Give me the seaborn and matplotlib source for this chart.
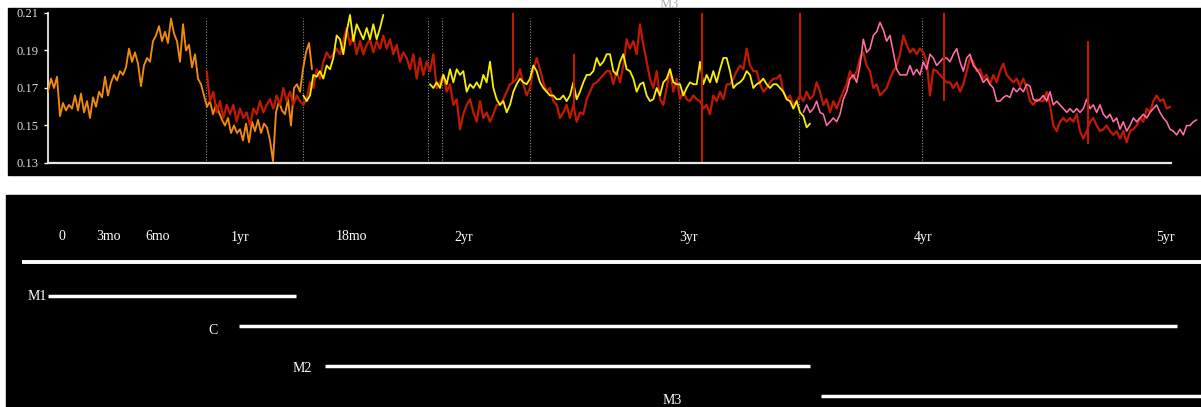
import numpy as np
import pandas as pd
import matplotlib
matplotlib.use("Agg")
import matplotlib.pyplot as plt
from matplotlib.patches import Rectangle
import seaborn as sns

# ---------------- data ----------------
# top panel: time axis in "days" (arbitrary units), values of the measured index
orange_start, orange_step = 0.0, 3.0
orange = [0.168, 0.175, 0.170, 0.176, 0.155, 0.162, 0.158, 0.161, 0.159, 0.166,
          0.158, 0.167, 0.157, 0.163, 0.154, 0.165, 0.160, 0.168, 0.165, 0.176,
          0.166, 0.173, 0.177, 0.174, 0.179, 0.177, 0.181, 0.191, 0.184, 0.189,
          0.183, 0.171, 0.182, 0.186, 0.184, 0.195, 0.198, 0.203, 0.195, 0.200,
          0.194, 0.207, 0.199, 0.195, 0.184, 0.204, 0.190, 0.193, 0.181, 0.188,
          0.175, 0.172, 0.166, 0.160, 0.163, 0.156, 0.161, 0.157, 0.153, 0.150,
          0.154, 0.146, 0.150, 0.146, 0.148, 0.142, 0.151, 0.141, 0.152, 0.147,
          0.153, 0.146, 0.151, 0.149, 0.142, 0.131, 0.157, 0.163, 0.158, 0.156,
          0.164, 0.150, 0.170, 0.172, 0.168, 0.180, 0.189, 0.194, 0.180]

STEP = 10.0 / 3.0
red_start = 158.67
red = [0.179, 0.163, 0.168, 0.157, 0.163, 0.154, 0.161,
       0.156, 0.161, 0.152, 0.159, 0.154, 0.157, 0.150, 0.159, 0.156, 0.163,
       0.157, 0.161, 0.164, 0.159, 0.166, 0.161, 0.170, 0.163, 0.168, 0.161,
       0.166, 0.163, 0.161, 0.164, 0.173, 0.170, 0.180, 0.175, 0.184, 0.189,
       0.186, 0.188, 0.191, 0.188, 0.195, 0.202, 0.193, 0.198, 0.188, 0.195,
       0.188, 0.193, 0.196, 0.189, 0.195, 0.191, 0.198, 0.191, 0.196, 0.188,
       0.193, 0.184, 0.189, 0.186, 0.180, 0.188, 0.175,
       0.186, 0.177, 0.184, 0.179, 0.188, 0.170, 0.173, 0.177, 0.168, 0.172,
       0.161, 0.164, 0.148, 0.156, 0.161, 0.164, 0.157, 0.152, 0.163, 0.154,
       0.157, 0.152, 0.156, 0.161, 0.161, 0.164, 0.168, 0.172, 0.173, 0.175,
       0.180, 0.172, 0.166, 0.170, 0.180, 0.186, 0.180, 0.173, 0.168, 0.170,
       0.163, 0.161, 0.154, 0.157, 0.161, 0.154, 0.161, 0.152, 0.157, 0.156,
       0.164, 0.168, 0.172, 0.173, 0.175, 0.177, 0.179,
       0.179, 0.172, 0.179, 0.173, 0.182, 0.196, 0.191, 0.195, 0.188, 0.204,
       0.193, 0.184, 0.175, 0.170, 0.179, 0.164, 0.161, 0.170, 0.180, 0.168,
       0.175, 0.164, 0.168, 0.164, 0.163, 0.166, 0.164, 0.163, 0.159, 0.161,
       0.156, 0.166, 0.163, 0.168, 0.164, 0.172, 0.172, 0.175, 0.179, 0.182,
       0.180, 0.191, 0.182, 0.179, 0.179, 0.172, 0.168, 0.170, 0.173, 0.175,
       0.175, 0.177, 0.168, 0.164, 0.166, 0.161, 0.163,
       0.166, 0.163, 0.168, 0.164, 0.166, 0.173, 0.168, 0.161, 0.164, 0.157,
       0.163, 0.159, 0.164, 0.168, 0.172, 0.179, 0.175, 0.179, 0.186, 0.189,
       0.182, 0.179, 0.170, 0.172, 0.166, 0.168, 0.170, 0.175, 0.179, 0.182,
       0.188, 0.198, 0.193, 0.189, 0.191, 0.188, 0.191, 0.189, 0.184, 0.166,
       0.180, 0.179, 0.177, 0.175, 0.173, 0.173, 0.170, 0.173, 0.168, 0.172,
       0.179, 0.186, 0.184, 0.179, 0.180, 0.175, 0.177, 0.172, 0.177,
       0.173, 0.179, 0.183, 0.177, 0.175, 0.173, 0.175, 0.171, 0.175, 0.170,
       0.163, 0.161, 0.164, 0.163, 0.163, 0.168, 0.161, 0.150, 0.147, 0.152,
       0.154, 0.152, 0.154, 0.152, 0.156, 0.147, 0.143, 0.147, 0.152, 0.154,
       0.150, 0.147, 0.148, 0.150, 0.147, 0.145, 0.147, 0.143, 0.147, 0.141,
       0.147, 0.148, 0.150, 0.154, 0.152, 0.159, 0.157, 0.163, 0.166, 0.163,
       0.164, 0.159, 0.160]

yellow_a_start = 255.33
yellow_a = [0.166, 0.163, 0.166, 0.177, 0.176, 0.179, 0.175, 0.182, 0.180, 0.186,
            0.198, 0.196, 0.188, 0.200, 0.209, 0.195, 0.204, 0.200, 0.196, 0.202,
            0.196, 0.204, 0.196, 0.202, 0.209]

yellow_b_start = 382.0
yellow_b = [0.172, 0.170, 0.173, 0.170, 0.177, 0.172, 0.180, 0.173, 0.180, 0.177,
            0.179, 0.168, 0.172, 0.170, 0.173, 0.170, 0.177, 0.173, 0.184, 0.170,
            0.164, 0.161, 0.163, 0.157, 0.161, 0.168, 0.172, 0.175, 0.173, 0.172,
            0.175, 0.182, 0.179, 0.173, 0.170, 0.168, 0.166, 0.166, 0.164, 0.164,
            0.166, 0.163, 0.166, 0.173, 0.164, 0.168, 0.173, 0.177, 0.177, 0.179,
            0.186, 0.182, 0.184, 0.188,
            0.188, 0.179, 0.177, 0.184, 0.188, 0.180, 0.179, 0.175, 0.168, 0.172,
            0.173, 0.166, 0.163, 0.164, 0.170, 0.166, 0.173, 0.175, 0.180, 0.173,
            0.172, 0.172, 0.166, 0.170, 0.173, 0.172, 0.172, 0.184, 0.172, 0.177,
            0.173, 0.179, 0.173, 0.180, 0.186, 0.186, 0.179, 0.170, 0.172, 0.173,
            0.175, 0.179, 0.177, 0.170, 0.172, 0.173, 0.175, 0.172, 0.170, 0.172,
            0.172, 0.170, 0.168, 0.164, 0.163, 0.159, 0.163,
            0.157, 0.155, 0.149, 0.151]

pink_start = 755.33
pink = [0.157, 0.161, 0.157, 0.159, 0.163, 0.157, 0.156, 0.150, 0.152, 0.154,
        0.152, 0.156, 0.164, 0.168, 0.175, 0.177, 0.173, 0.182, 0.196, 0.189,
        0.191, 0.198, 0.200, 0.205, 0.201, 0.195, 0.198, 0.189, 0.180, 0.177,
        0.177, 0.177, 0.182, 0.177, 0.180, 0.177, 0.184, 0.180, 0.188, 0.186,
        0.182, 0.184, 0.186, 0.186, 0.184, 0.188, 0.191, 0.184, 0.179, 0.186,
        0.188, 0.182, 0.180, 0.177, 0.173, 0.175, 0.172, 0.170, 0.163,
        0.163, 0.165, 0.166, 0.165, 0.170, 0.168, 0.170, 0.168, 0.172, 0.171,
        0.164, 0.163, 0.164, 0.166, 0.163, 0.168, 0.161, 0.163, 0.161, 0.159,
        0.157, 0.159, 0.157, 0.159, 0.157, 0.159, 0.164, 0.159, 0.161, 0.157,
        0.161, 0.156, 0.154, 0.156, 0.152, 0.154, 0.148, 0.152, 0.147, 0.150,
        0.154, 0.152, 0.154, 0.156, 0.154, 0.157, 0.159, 0.161, 0.157, 0.154,
        0.152, 0.148, 0.147, 0.145, 0.148, 0.145, 0.150, 0.150, 0.152, 0.153]

# artefact spikes in the red record
spike_t = [465, 526, 654, 752, 896, 1040]
spike_lo = [0.173, 0.161, 0.130, 0.165, 0.163, 0.140]
spike_hi = [0.210, 0.188, 0.210, 0.210, 0.210, 0.195]

# dotted event markers
event_t = [158, 255, 380, 394, 482, 631, 751, 874]

yticks = [0.13, 0.15, 0.17, 0.19, 0.21]
axis_end = 1124

# bottom panel: timeline
timeline_labels = ["0", "3mo", "6mo", "1yr", "18mo", "2yr", "3yr", "4yr", "5yr"]
timeline_pos = [62, 109, 158, 240, 351, 464, 689, 923, 1165]
phase_names = ["M1", "C", "M2", "M3"]
phase_start = [48, 239, 325, 821]
phase_end = [296, 1177, 810, 1201]

# ---------------- layout / style ----------------
W, H = 1201, 407
sns.set_style("dark")
plt.rcParams['font.family'] = ['Liberation Serif', 'DejaVu Serif']

colors = {"orange": "#F28A0A", "red": "#C01A00", "yellow": "#F8F000", "pink": "#FF6FA6"}
widths = {"orange": 1.35, "red": 1.6, "yellow": 1.3, "pink": 1.15}


def fx(px):
    return px / W


def fy(py):
    return 1 - py / H


fig = plt.figure(figsize=(W / 100, H / 100), dpi=100, facecolor='white')
fig.add_artist(Rectangle((fx(8), fy(175)), (W - 8) / W, (175 - 8) / H,
                         transform=fig.transFigure, color='black', zorder=0))
fig.add_artist(Rectangle((fx(6), 0), (W - 6) / W, (407 - 195) / H,
                         transform=fig.transFigure, color='black', zorder=0))

# ---- top panel ----
ax = fig.add_axes([fx(48), fy(163), (W - 48) / W, 150 / H])
ax.set_facecolor('none')
ax.patch.set_alpha(0)


def series_frame(name, seg, start, step, vals):
    t = start + step * np.arange(len(vals))
    return pd.DataFrame({"t": t, "v": vals, "series": name, "seg": seg})


df = pd.concat([
    series_frame("orange", "o", orange_start, orange_step, orange),
    series_frame("red", "r", red_start, STEP, red),
    series_frame("yellow", "ya", yellow_a_start, STEP, yellow_a),
    series_frame("yellow", "yb", yellow_b_start, STEP, yellow_b),
    series_frame("pink", "p", pink_start, STEP, pink),
], ignore_index=True)

ax.vlines(event_t, 0.13, 0.2075, colors='#8c8c8c', linestyles=(0, (1, 1.5)), lw=0.8, zorder=1)
for name in ["orange", "red", "yellow", "pink"]:
    sub = df[df["series"] == name]
    sns.lineplot(data=sub, x="t", y="v", units="seg", estimator=None,
                 color=colors[name], linewidth=widths[name], legend=False,
                 sort=False, ax=ax, zorder=3)
ax.vlines(spike_t, spike_lo, spike_hi, colors=colors["red"], lw=1.5, zorder=3)
ax.hlines(0.13, 0, axis_end, colors='#e8e8e8', lw=1.6, clip_on=False, zorder=4)

ax.set_xlim(0, W - 48)
ax.set_ylim(0.13, 0.21)
ax.set_yticks(yticks)
ax.set_yticklabels([f"{v:.2f}" for v in yticks])
ax.set_xticks([])
ax.grid(False)
ax.set_xlabel("")
ax.set_ylabel("")
for s in ["top", "right", "bottom"]:
    ax.spines[s].set_visible(False)
ax.spines["left"].set_color('white')
ax.spines["left"].set_linewidth(1.2)
ax.tick_params(axis='y', colors='white', labelcolor='#dcdcdc', labelsize=9,
               length=3, width=1, direction='out', pad=4, left=True)

# ---- bottom panel ----
ax2 = fig.add_axes([fx(6), 0, (W - 6) / W, (407 - 195) / H])
ax2.set_xlim(6, W)
ax2.set_ylim(407, 195)
ax2.set_axis_off()

label_row, timeline_row = 237, 262
phase_rows = [296, 326, 366, 396]
phase_label_x = [47, 213, 302, 672]
phase_label_y = [296, 331, 369, 401]
phase_label_ha = ["right", "center", "center", "center"]

for lab, p in zip(timeline_labels, timeline_pos):
    ax2.text(p, label_row, lab, color='white', fontsize=10, ha='center', va='center')
ax2.hlines(timeline_row, 22, W, colors='white', lw=2.8)
ax2.hlines(phase_rows, phase_start, phase_end, colors='white', lw=2.5)
for name, x, y, ha in zip(phase_names, phase_label_x, phase_label_y, phase_label_ha):
    ax2.text(x, y, name, color='white', fontsize=10, ha=ha, va='center', clip_on=False)

fig.text(fx(669), fy(5), "M3", color='#aaaaaa', fontsize=10, ha='center', va='center')

fig.savefig("out.png", dpi=100, facecolor='white')
